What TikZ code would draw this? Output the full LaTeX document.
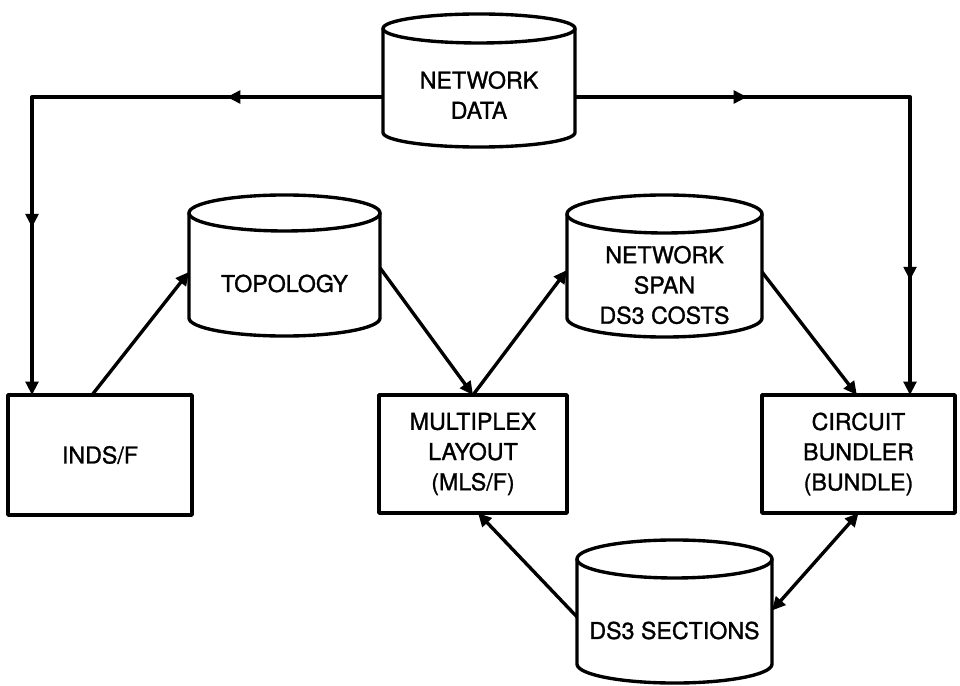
\documentclass[tikz,border=0pt]{standalone}
\usepackage{fontspec}
\setmainfont{TeX Gyre Heros}
\newfontfamily\labelfont[FakeBold=1.2]{TeX Gyre Heros}
\usetikzlibrary{arrows.meta,decorations.markings}

% Database cylinder around a node that covers its visible body:
% #1 node name, #2 x radius of the caps, #3 y radius of the caps
\newcommand\dbcyl[3]{%
  \draw[outline] ([yshift=#3]#1.north west) -- ([yshift=#3]#1.south west)
    arc[start angle=180,end angle=360,x radius=#2,y radius=#3]
    -- ([yshift=#3]#1.north east);
  \draw[outline,fill=white] ([yshift=#3]#1.north) ellipse[x radius=#2,y radius=#3];
}

\tikzset{
  tri/.tip={Triangle[length=9.5pt,width=9pt]},
  outline/.style={line width=2.4pt,line join=round},
  txt/.style={font=\labelfont\fontsize{16.5}{21.5}\selectfont,align=center,
    inner sep=0pt,outer sep=0pt},
  procbox/.style={txt,draw,outline},
  dbbody/.style={txt},
  flow/.style={outline,-tri},
  twoway/.style={outline,tri-tri},
}

\begin{document}
\begin{tikzpicture}[x=0.025cm,y=-0.025cm]
\useasboundingbox (0,0) rectangle (960,685);

% data stores
\node[dbbody,minimum width=4.8cm,minimum height=2.6cm]
  (nd) at (479,95) {NETWORK\\DATA};
\node[dbbody,minimum width=4.775cm,minimum height=2.625cm]
  (topo) at (284.5,283.5) {TOPOLOGY};
\node[dbbody,minimum width=4.875cm,minimum height=2.6cm]
  (span) at (664.5,285) {NETWORK\\SPAN\\DS3 COSTS};
\node[dbbody,minimum width=4.875cm,minimum height=2.625cm]
  (ds3) at (674.5,630.5) {DS3 SECTIONS};

\dbcyl{nd}{2.4cm}{0.3625cm}
\dbcyl{topo}{2.3875cm}{0.45cm}
\dbcyl{span}{2.4375cm}{0.475cm}
\dbcyl{ds3}{2.4375cm}{0.475cm}

% programs
\node[procbox,minimum width=4.6cm,minimum height=3cm]
  (inds) at (100,455) {INDS/F};
\node[procbox,minimum width=4.7cm,minimum height=2.95cm]
  (mlsf) at (473,454) {MULTIPLEX\\LAYOUT\\(MLS/F)};
\node[procbox,minimum width=4.825cm,minimum height=2.95cm]
  (bundle) at (858.5,454) {CIRCUIT\\BUNDLER\\(BUNDLE)};

% network data feeds on both sides
\coordinate (lc) at (32,97);
\coordinate (rc) at (910,97);
\draw[flow,postaction={decorate},decoration={markings,
    mark=at position 3.9cm with {\arrow{tri}},
    mark=at position 12.03cm with {\arrow{tri}}}]
  (nd.west |- lc) -- (lc) -- (lc |- inds.north);
\draw[flow,postaction={decorate},decoration={markings,
    mark=at position 4.3cm with {\arrow{tri}},
    mark=at position 12.95cm with {\arrow{tri}}}]
  (nd.east |- rc) -- (rc) -- (rc |- bundle.north);

% processing chain
\draw[flow] ([xshift=-0.2cm]inds.north) -- ([yshift=0.29cm]topo.west);
\draw[flow] ([yshift=0.39cm]topo.east) -- (mlsf.north);
\draw[flow] (mlsf.north) -- ([yshift=0.375cm]span.west);
\draw[flow] ([yshift=0.325cm]span.east) -- ([xshift=-0.04cm]bundle.north);
\draw[flow] ([yshift=0.34cm]ds3.west) -- ([xshift=0.125cm]mlsf.south);
\draw[twoway] ([yshift=0.5cm]ds3.east) -- (bundle.south);
\end{tikzpicture}
\end{document}
